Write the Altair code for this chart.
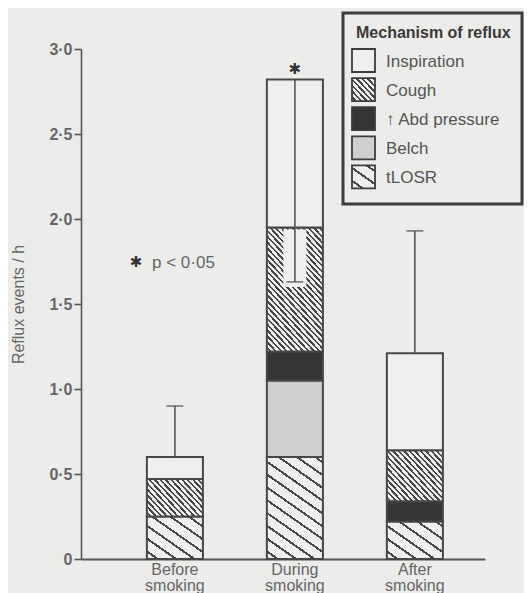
import math
import altair as alt
import pandas as pd

# ---------------- data ----------------
phases = ["Before smoking", "During smoking", "After smoking"]
mechanisms = ["tLOSR", "Belch", "↑ Abd pressure", "Cough", "Inspiration"]  # bottom -> top
tlosr = [0.25, 0.60, 0.22]
belch = [0.00, 0.45, 0.00]
abd_pressure = [0.00, 0.17, 0.12]
cough = [0.22, 0.73, 0.30]
inspiration = [0.13, 0.87, 0.57]
error_end = [0.90, 1.63, 1.93]          # end of the drawn error bar
y_ticks = [0, 0.5, 1.0, 1.5, 2.0, 2.5, 3.0]
legend_order = ["Inspiration", "Cough", "↑ Abd pressure", "Belch", "tLOSR"]

series = {"tLOSR": tlosr, "Belch": belch, "↑ Abd pressure": abd_pressure,
          "Cough": cough, "Inspiration": inspiration}

rows = []
for i, ph in enumerate(phases):
    for j, m in enumerate(mechanisms):
        rows.append({"phase": ph, "mechanism": m, "order": j, "value": series[m][i]})
df = pd.DataFrame(rows)

tops = [sum(series[m][i] for m in mechanisms) for i in range(len(phases))]
err = pd.DataFrame({"phase": phases, "top": tops, "end": error_end})
cough_top_during = sum(series[m][1] for m in mechanisms[:4])
gap = pd.DataFrame({"phase": [phases[1]], "a": [cough_top_during - 0.012],
                    "b": [error_end[1] - 0.03]})

# ---------------- styling ----------------
W, H = 404, 510
YMAX = 3.0
PPU = H / YMAX
P_IN, P_OUT, ALIGN = 0.533, 0.45, 0.61
STEP = W / (3 - P_IN + 2 * P_OUT)
BW = STEP * (1 - P_IN)

BG = "#ececea"
LIGHT = "#efefed"
INK = "#474747"
TXT = "#666666"
FONT = "Liberation Sans"


def hatch(w, h, theta, period, thick, line=INK, bg=LIGHT):
    t = math.radians(theta)
    a, b = math.cos(t), math.sin(t)
    dx, dy = b / h, -a / w
    s = (b / h + a / w) / (dx * dx + dy * dy)
    x2, y2 = s * dx, 1 + s * dy
    extent = w * b + h * a
    p, q = period / extent, thick / extent
    stops = [alt.GradientStop(color=bg, offset=0)]
    off = p * 0.5
    while off + q < 1:
        o1, o2 = round(off, 5), round(off + q, 5)
        stops += [alt.GradientStop(color=bg, offset=o1),
                  alt.GradientStop(color=line, offset=o1),
                  alt.GradientStop(color=line, offset=o2),
                  alt.GradientStop(color=bg, offset=o2)]
        off += p
    stops.append(alt.GradientStop(color=bg, offset=1))
    return alt.LinearGradient(gradient="linear", stops=stops,
                              x1=0, y1=1, x2=round(x2, 5), y2=round(y2, 5))


def fill_for(m, w, h):
    if m == "tLOSR":
        return hatch(w, h, 35, 10.5, 2.0)
    if m == "Cough":
        return hatch(w, h, 47, 4.0, 1.7)
    if m == "Belch":
        return "#cfcfcd"
    if m == "↑ Abd pressure":
        return "#353535"
    return LIGHT


yscale = alt.Scale(domain=[0, YMAX], nice=False, zero=True)
yaxis = alt.Axis(values=y_ticks, grid=False, title="Reflux events / h",
                 labelExpr="datum.value == 0 ? '0' : replace(format(datum.value, '.1f'), '.', '·')",
                 labelFontWeight="bold", labelFontSize=16, labelColor=TXT,
                 labelPadding=2, tickSize=7, tickColor="#555", tickWidth=1.6,
                 domainColor="#555", domainWidth=1.6,
                 titleFontSize=16, titleFontWeight="normal", titleColor=TXT,
                 titlePadding=22)
xscale = alt.Scale(paddingInner=P_IN, paddingOuter=P_OUT, align=ALIGN)
xaxis = alt.Axis(title=None, ticks=False, labelAngle=0,
                 labelExpr="split(datum.label, ' ')",
                 labelFontSize=16, labelColor=TXT, labelPadding=2, labelLineHeight=16,
                 domainColor="#555", domainWidth=1.8)
xenc = alt.X("phase:N", sort=phases, scale=xscale, axis=xaxis)

layers = []
stacked = alt.Chart(df).transform_stack(
    stack="value", groupby=["phase"],
    sort=[alt.SortField("order", order="ascending")], as_=["y0", "y1"])

for i, ph in enumerate(phases):
    for m in mechanisms:
        v = series[m][i]
        if v <= 0:
            continue
        layers.append(
            stacked.transform_filter(
                f"datum.phase === '{ph}' && datum.mechanism === '{m}'"
            ).mark_bar(fill=fill_for(m, BW, v * PPU), stroke=INK, strokeWidth=2)
            .encode(x=xenc, y=alt.Y("y1:Q", scale=yscale, axis=yaxis), y2="y0:Q")
        )

# white gap around the during-smoking error bar
layers.append(alt.Chart(gap).mark_rule(color=LIGHT, strokeWidth=23).encode(
    x=xenc, y=alt.Y("a:Q", scale=yscale, axis=yaxis), y2="b:Q"))
# error bars
layers.append(alt.Chart(err).mark_rule(color="#555", strokeWidth=1.6).encode(
    x=xenc, y=alt.Y("top:Q", scale=yscale, axis=yaxis), y2="end:Q"))
layers.append(alt.Chart(err).mark_tick(color="#555", thickness=1.8, size=17,
                                       orient="horizontal").encode(
    x=xenc, y=alt.Y("end:Q", scale=yscale, axis=yaxis)))
# significance star
layers.append(alt.Chart(err[err.phase == phases[1]]).mark_text(
    text="✱", font="DejaVu Sans", fontSize=15, color="#333", baseline="bottom", dy=-3
).encode(x=xenc, y=alt.Y("top:Q", scale=yscale, axis=yaxis)))

one = alt.Data(values=[{"k": 1}])
layers.append(alt.Chart(one).mark_text(
    text="✱", font="DejaVu Sans", fontSize=15, color="#333", align="center",
    baseline="middle").encode(x=alt.value(55), y=alt.value(213)))
layers.append(alt.Chart(one).mark_text(
    text="p < 0·05", font=FONT, fontSize=17, color=TXT, align="left",
    baseline="middle").encode(x=alt.value(71), y=alt.value(214)))

# legend box
layers.append(alt.Chart(one).mark_rect(fill=BG, stroke="#3d3d3d", strokeWidth=3).encode(
    x=alt.value(262), x2=alt.value(441), y=alt.value(-36), y2=alt.value(155)))
layers.append(alt.Chart(one).mark_text(
    text="Mechanism of reflux", font=FONT, fontSize=16, fontWeight="bold",
    color="#3a3a3a", align="left", baseline="middle").encode(
    x=alt.value(275), y=alt.value(-16)))
for k, m in enumerate(legend_order):
    cy = 11.5 + 29.1 * k
    layers.append(alt.Chart(one).mark_rect(
        fill=fill_for(m, 23, 23), stroke="#3d3d3d", strokeWidth=1.8).encode(
        x=alt.value(271), x2=alt.value(294), y=alt.value(cy - 11.5), y2=alt.value(cy + 11.5)))
    layers.append(alt.Chart(one).mark_text(
        text=m, font=FONT, fontSize=17, color="#555", align="left",
        baseline="middle").encode(x=alt.value(305), y=alt.value(cy + 1)))

chart = alt.layer(*layers).properties(
    width=W, height=H,
    padding={"left": 73, "top": 41, "right": 39, "bottom": 34},
    autosize=alt.AutoSizeParams(type="none"),
).configure(background=BG, font=FONT).configure_view(stroke=None)

chart.save("out.html", embed_options={"renderer": "svg", "actions": False})
